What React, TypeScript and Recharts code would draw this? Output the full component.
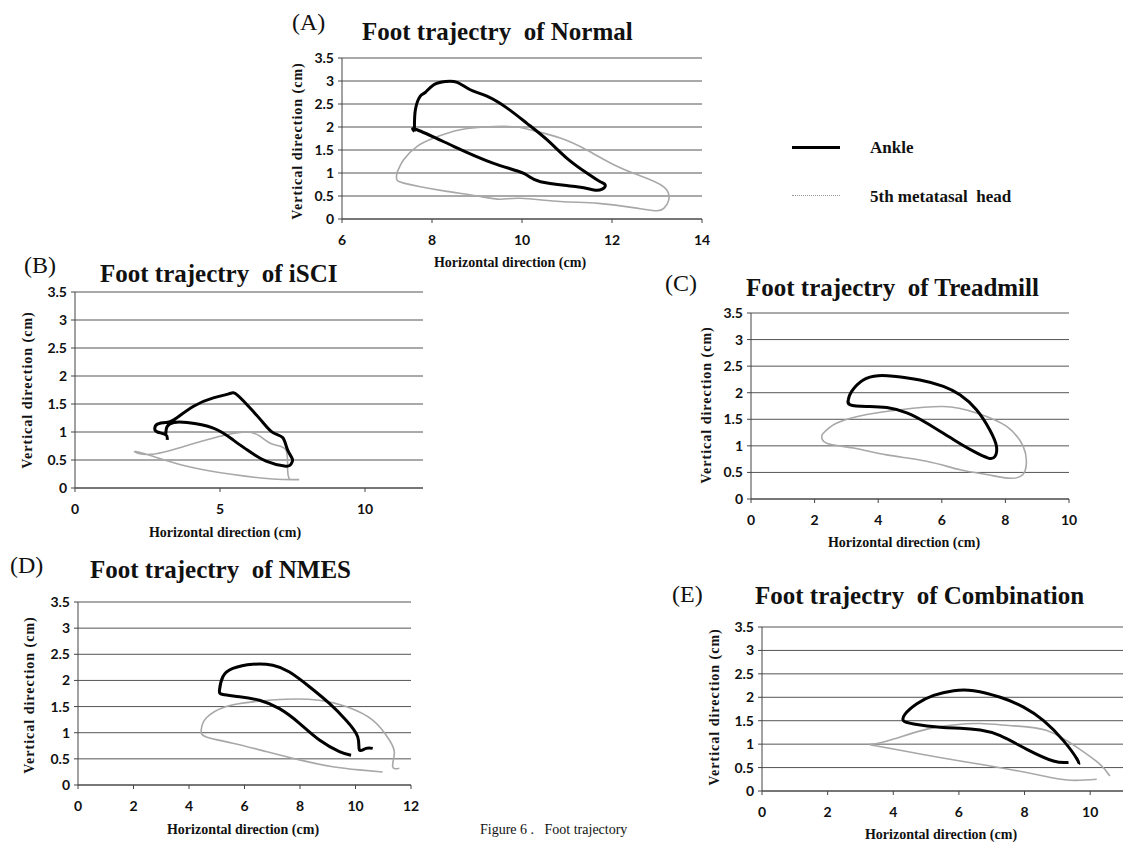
import React from "react";
import { LineChart, Line, XAxis, YAxis, CartesianGrid } from "recharts";

// [horizontal cm, vertical cm]
const normalAnkle = [
  [7.61, 1.9], [7.63, 2.37], [7.74, 2.67], [7.85, 2.75], [8.04, 2.92], [8.3, 2.99], [8.56, 2.97],
  [8.85, 2.81], [9.22, 2.67], [9.67, 2.41], [10.11, 2.08], [10.56, 1.72], [11.0, 1.32], [11.44, 1.0],
  [11.74, 0.81], [11.85, 0.74], [11.78, 0.65], [11.6, 0.63], [11.22, 0.7], [10.41, 0.81], [10.04, 0.99],
  [9.37, 1.21], [8.48, 1.58], [7.67, 1.94], [7.61, 1.9],
];
const normalMeta = [
  [7.22, 1.0], [7.37, 1.29], [7.67, 1.58], [8.04, 1.76], [8.63, 1.94], [9.37, 2.01], [9.89, 2.0],
  [10.26, 1.92], [10.85, 1.76], [11.44, 1.5], [12.04, 1.18], [12.6, 0.95], [13.15, 0.7], [13.26, 0.41],
  [13.15, 0.23], [13.0, 0.18], [12.59, 0.23], [11.7, 0.34], [10.85, 0.38], [9.96, 0.45], [9.52, 0.43],
  [9.0, 0.5], [8.33, 0.6], [7.74, 0.7], [7.37, 0.78], [7.22, 0.85], [7.22, 1.0],
];

const isciAnkle = [
  [3.18, 0.86], [3.13, 0.95], [2.84, 1.0], [2.75, 1.06], [2.84, 1.14], [3.13, 1.17], [3.41, 1.22],
  [4.09, 1.46], [4.77, 1.61], [5.3, 1.68], [5.6, 1.66], [6.14, 1.37], [6.48, 1.17], [6.82, 0.99],
  [7.16, 0.9], [7.33, 0.68], [7.5, 0.51], [7.44, 0.42], [7.27, 0.39], [6.59, 0.48], [5.91, 0.69],
  [5.45, 0.86], [4.77, 1.07], [3.86, 1.17], [3.41, 1.17], [3.18, 1.1], [3.13, 0.95],
];
const isciMeta = [
  [7.73, 0.15], [6.82, 0.16], [5.45, 0.24], [3.86, 0.39], [2.6, 0.58], [2.05, 0.65], [2.6, 0.6],
  [3.75, 0.74], [4.55, 0.86], [5.23, 0.95], [5.91, 1.0], [6.36, 0.93], [6.82, 0.78], [7.27, 0.68],
  [7.33, 0.33], [7.39, 0.16],
];

const treadAnkle = [
  [3.06, 1.87], [3.16, 2.02], [3.53, 2.24], [4.0, 2.32], [4.48, 2.31], [5.31, 2.24], [6.05, 2.12],
  [6.57, 1.96], [7.09, 1.68], [7.51, 1.3], [7.72, 0.99], [7.67, 0.8], [7.46, 0.77], [6.99, 0.9],
  [6.36, 1.12], [5.52, 1.43], [4.9, 1.62], [4.27, 1.72], [3.64, 1.74], [3.12, 1.77], [3.06, 1.87],
];
const treadMeta = [
  [2.23, 1.21], [2.7, 1.43], [3.64, 1.59], [4.69, 1.68], [6.05, 1.74], [7.09, 1.62], [8.03, 1.37],
  [8.56, 0.99], [8.66, 0.68], [8.55, 0.46], [8.14, 0.39], [7.41, 0.46], [6.57, 0.55], [5.52, 0.71],
  [4.27, 0.83], [3.22, 0.96], [2.38, 1.05], [2.23, 1.21],
];

const nmesAnkle = [
  [9.84, 0.57], [9.42, 0.64], [8.7, 0.86], [7.98, 1.18], [7.26, 1.46], [6.54, 1.62], [5.82, 1.69],
  [5.22, 1.73], [5.1, 1.82], [5.22, 2.07], [5.58, 2.23], [6.3, 2.31], [7.02, 2.29], [7.62, 2.16],
  [8.34, 1.88], [9.06, 1.56], [9.66, 1.24], [10.08, 0.92], [10.14, 0.67], [10.38, 0.7], [10.62, 0.7],
];
const nmesMeta = [
  [10.98, 0.25], [10.14, 0.29], [9.18, 0.35], [7.98, 0.48], [6.78, 0.64], [5.58, 0.8], [4.62, 0.92],
  [4.44, 1.05], [4.62, 1.28], [5.34, 1.5], [6.3, 1.59], [7.5, 1.64], [8.7, 1.62], [9.66, 1.5],
  [10.62, 1.24], [11.22, 0.86], [11.4, 0.61], [11.34, 0.35], [11.58, 0.32],
];

const comboAnkle = [
  [9.34, 0.61], [8.88, 0.64], [8.07, 0.89], [7.26, 1.18], [6.65, 1.3], [6.04, 1.34], [5.43, 1.36],
  [4.62, 1.43], [4.31, 1.5], [4.36, 1.64], [4.72, 1.86], [5.23, 2.04], [5.84, 2.14], [6.45, 2.14],
  [7.26, 2.0], [7.97, 1.79], [8.58, 1.5], [9.19, 1.07], [9.6, 0.68], [9.65, 0.57],
];
const comboMeta = [
  [10.2, 0.25], [9.39, 0.23], [8.58, 0.32], [7.56, 0.46], [6.04, 0.64], [4.82, 0.79], [3.5, 0.96],
  [3.4, 1.0], [4.01, 1.11], [5.03, 1.32], [5.84, 1.41], [6.65, 1.44], [7.67, 1.39], [8.68, 1.29],
  [9.6, 0.93], [10.3, 0.57], [10.6, 0.32],
];

const yTicks = [0, 0.5, 1, 1.5, 2, 2.5, 3, 3.5];
const ticksNormal = [6, 8, 10, 12, 14];
const ticksIsci = [0, 5, 10];
const ticksTread = [0, 2, 4, 6, 8, 10];
const ticksNmes = [0, 2, 4, 6, 8, 10, 12];
const ticksCombo = [0, 2, 4, 6, 8, 10];

const SERIF = "'Liberation Serif', 'Times New Roman', serif";
const SANS = "Lato, 'Open Sans', sans-serif";
const toPts = (arr: number[][]) => arr.map(([x, y]) => ({ x, y }));

interface PanelProps {
  left: number;
  top: number;
  width: number;
  height: number;
  domain: [number, number];
  ticks: number[];
  ankle: number[][];
  meta: number[][];
}

const YW = 40;
const MT = 8;
const MR = 16;
const XH = 36;
const tickStyle = { fontSize: 14, fontWeight: 700, fill: "#111", fontFamily: SANS };

function Panel({ left, top, width, height, domain, ticks, ankle, meta }: PanelProps) {
  return (
    <div style={{ position: "absolute", left: left - YW, top: top - MT }}>
      <LineChart
        width={width + YW + MR}
        height={height + MT + XH}
        margin={{ top: MT, right: MR, bottom: 0, left: 0 }}
      >
        <CartesianGrid vertical={false} stroke="#555" strokeWidth={1} />
        <XAxis
          type="number"
          dataKey="x"
          domain={domain}
          ticks={ticks}
          interval={0}
          allowDataOverflow
          height={XH}
          stroke="#444"
          tickSize={4}
          tickMargin={12}
          tick={tickStyle}
        />
        <YAxis
          type="number"
          domain={[0, 3.5]}
          ticks={yTicks}
          interval={0}
          allowDataOverflow
          width={YW}
          stroke="#444"
          tickSize={4}
          tickMargin={4}
          tick={tickStyle}
        />
        <Line
          data={toPts(meta)}
          dataKey="y"
          type="natural"
          stroke="#a8a8a8"
          strokeWidth={1.6}
          dot={false}
          isAnimationActive={false}
        />
        <Line
          data={toPts(ankle)}
          dataKey="y"
          type="natural"
          stroke="#000"
          strokeWidth={3}
          dot={false}
          isAnimationActive={false}
        />
      </LineChart>
    </div>
  );
}

function Txt({ x, y, size, bold, children }: { x: number; y: number; size: number; bold?: boolean; children: React.ReactNode }) {
  return (
    <div
      style={{
        position: "absolute",
        left: x,
        top: y,
        transform: "translateY(-50%)",
        fontSize: size,
        fontWeight: bold ? 700 : 400,
        fontFamily: SERIF,
        whiteSpace: "nowrap",
        lineHeight: 1,
        color: "#111",
      }}
    >
      {children}
    </div>
  );
}

function CTxt({ x, y, rotate, children }: { x: number; y: number; rotate?: boolean; children: React.ReactNode }) {
  return (
    <div
      style={{
        position: "absolute",
        left: x,
        top: y,
        transform: `translate(-50%, -50%)${rotate ? " rotate(-90deg)" : ""}`,
        fontSize: 14,
        letterSpacing: rotate ? 1 : 0,
        fontWeight: 700,
        fontFamily: SERIF,
        whiteSpace: "nowrap",
        lineHeight: 1,
        color: "#111",
      }}
    >
      {children}
    </div>
  );
}

export default function App() {
  return (
    <div style={{ position: "absolute", left: 0, top: 0, width: 1123, height: 843, background: "#fff", overflow: "hidden" }}>
      {/* (A) */}
      <Txt x={292} y={22} size={24}>(A)</Txt>
      <Txt x={362} y={31} size={25} bold>Foot trajectry&nbsp; of Normal</Txt>
      <Panel left={342} top={58} width={360} height={161} domain={[6, 14]} ticks={ticksNormal} ankle={normalAnkle} meta={normalMeta} />
      <CTxt x={298} y={141} rotate>Vertical direction (cm)</CTxt>
      <CTxt x={510} y={263}>Horizontal direction (cm)</CTxt>

      {/* legend */}
      <div style={{ position: "absolute", left: 792, top: 146, width: 48, height: 3, background: "#000" }} />
      <Txt x={870} y={147} size={17} bold>Ankle</Txt>
      <div style={{ position: "absolute", left: 792, top: 195, width: 48, borderTop: "1px dotted #999" }} />
      <Txt x={870} y={196} size={17} bold>5th metatasal&nbsp; head</Txt>

      {/* (B) */}
      <Txt x={24} y={265} size={24}>(B)</Txt>
      <Txt x={100} y={273} size={25} bold>Foot trajectry&nbsp; of iSCI</Txt>
      <Panel left={75} top={292} width={348} height={196} domain={[0, 12]} ticks={ticksIsci} ankle={isciAnkle} meta={isciMeta} />
      <CTxt x={28} y={390} rotate>Vertical direction (cm)</CTxt>
      <CTxt x={225} y={533}>Horizontal direction (cm)</CTxt>

      {/* (C) */}
      <Txt x={665} y={283} size={24}>(C)</Txt>
      <Txt x={746} y={287} size={25} bold>Foot trajectry&nbsp; of Treadmill</Txt>
      <Panel left={751} top={313} width={318} height={186} domain={[0, 10]} ticks={ticksTread} ankle={treadAnkle} meta={treadMeta} />
      <CTxt x={707} y={405} rotate>Vertical direction (cm)</CTxt>
      <CTxt x={904} y={543}>Horizontal direction (cm)</CTxt>

      {/* (D) */}
      <Txt x={10} y={565} size={24}>(D)</Txt>
      <Txt x={90} y={569} size={25} bold>Foot trajectry&nbsp; of NMES</Txt>
      <Panel left={78} top={602} width={333} height={183} domain={[0, 12]} ticks={ticksNmes} ankle={nmesAnkle} meta={nmesMeta} />
      <CTxt x={30} y={695} rotate>Vertical direction (cm)</CTxt>
      <CTxt x={243} y={830}>Horizontal direction (cm)</CTxt>

      {/* (E) */}
      <Txt x={672} y={594} size={24}>(E)</Txt>
      <Txt x={755} y={595} size={25} bold>Foot trajectry&nbsp; of Combination</Txt>
      <Panel left={762} top={627} width={361} height={164} domain={[0, 11]} ticks={ticksCombo} ankle={comboAnkle} meta={comboMeta} />
      <CTxt x={715} y={707} rotate>Vertical direction (cm)</CTxt>
      <CTxt x={941} y={835}>Horizontal direction (cm)</CTxt>

      <Txt x={480} y={830} size={14}>Figure 6 .&nbsp;&nbsp; Foot trajectory</Txt>
    </div>
  );
}
